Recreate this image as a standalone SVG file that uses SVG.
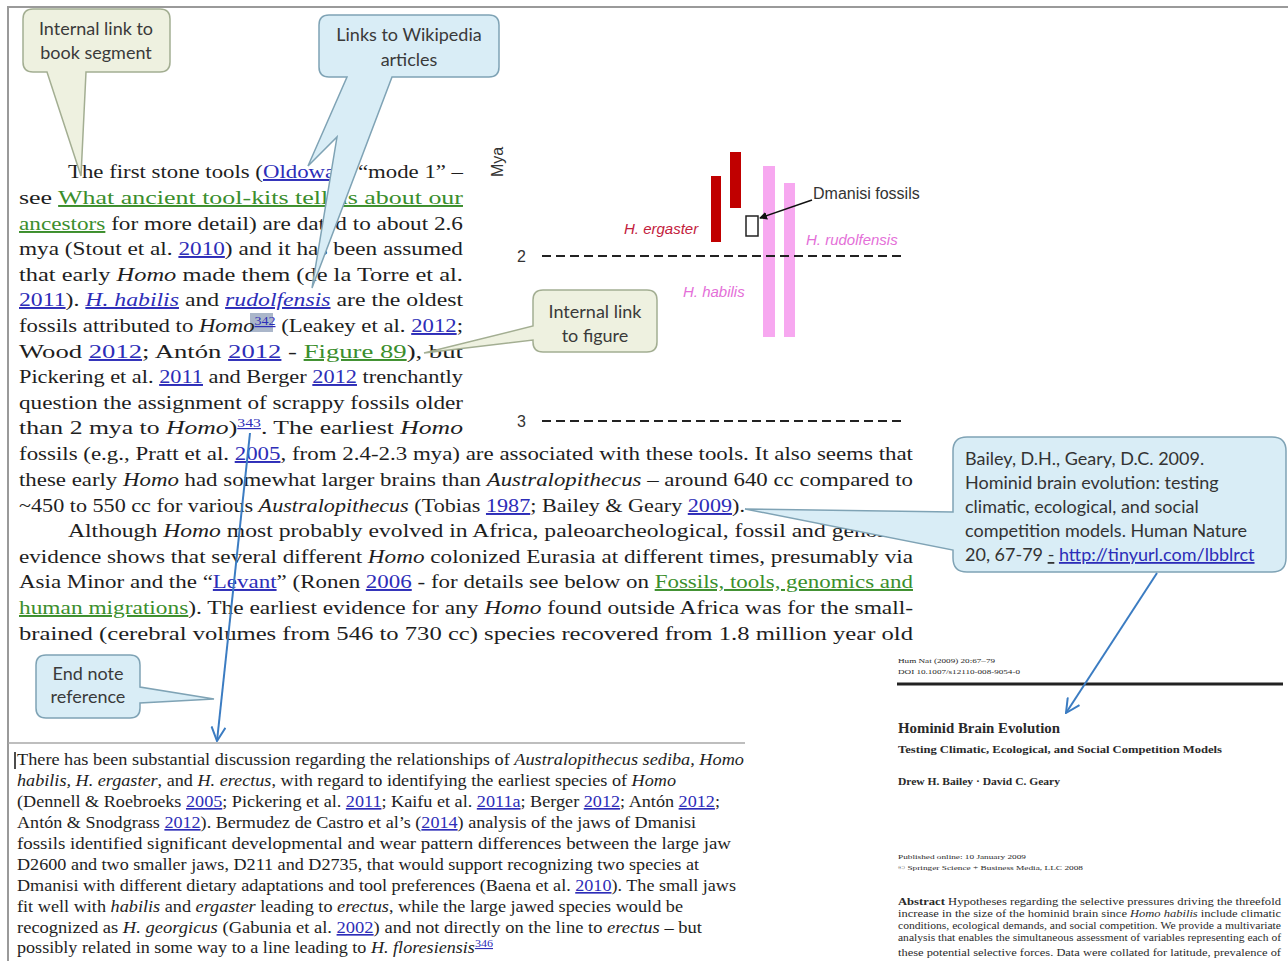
<svg xmlns="http://www.w3.org/2000/svg" width="1288" height="961" viewBox="0 0 1288 961">
  <defs>
    <style>
      .body{font-family:"Liberation Serif","Times New Roman",serif;font-size:19.5px;fill:#1e1e1e}
      .fn{font-family:"Liberation Serif","Times New Roman",serif;font-size:16.5px;fill:#1e1e1e}
      .lk{fill:#2d2db8;text-decoration:underline}
      .gl{fill:#3b8e2c;text-decoration:underline}
      .it{font-style:italic}
      .cg{fill:#eef1e0;stroke:#a3ae92;stroke-width:1.5}
      .cb{fill:#d9edf6;stroke:#7fa3b5;stroke-width:1.5}
      .ct{font-family:Lato,"Liberation Sans",sans-serif;font-size:18px;fill:#3a3a3a;text-anchor:middle}
      .bt{font-family:Lato,"Liberation Sans",sans-serif;font-size:18px;fill:#333}
      .ax{font-family:"Liberation Sans",Arial,sans-serif;font-size:16px;fill:#333}
      .sp{font-family:"Liberation Sans",Arial,sans-serif;font-size:15px;font-style:italic}
      .dash{stroke:#222;stroke-width:2;stroke-dasharray:9 5}
      .pp{font-family:"Liberation Serif","Times New Roman",serif;fill:#2a2a2a}
      .arrow{stroke:#3b7cc2;stroke-width:2;fill:none}
    </style>
    <marker id="vhead" viewBox="0 0 16 16" refX="15" refY="8" markerWidth="16" markerHeight="16" markerUnits="userSpaceOnUse" orient="auto">
      <path d="M1,1 L15,8 L1,15" fill="none" stroke="#3b7cc2" stroke-width="2"/>
    </marker>
    <marker id="dhead" viewBox="0 0 8 8" refX="7" refY="4" markerWidth="8" markerHeight="8" markerUnits="userSpaceOnUse" orient="auto">
      <path d="M0,0 L8,4 L0,8 Z" fill="#111"/>
    </marker>
  </defs>

  <rect width="1288" height="961" fill="#fff"/>
  <!-- page frame -->
  <path d="M8,961 V7 H1288" fill="none" stroke="#9a9a9a" stroke-width="2"/>

  <!-- body text -->
  <g id="body-text">
    <rect x="250" y="313" width="23" height="19" fill="#aab6ca"/>
    <text class="body" x="68" y="178" textLength="395" lengthAdjust="spacingAndGlyphs">The first stone tools (<tspan class="lk">Oldowan</tspan>, “mode 1” –</text>
    <text class="body" x="19" y="204" textLength="444" lengthAdjust="spacingAndGlyphs">see <tspan class="gl">What ancient tool-kits tell us about our</tspan></text>
    <text class="body" x="19" y="230" textLength="444" lengthAdjust="spacingAndGlyphs"><tspan class="gl">ancestors</tspan> for more detail)  are dated to about 2.6</text>
    <text class="body" x="19" y="255" textLength="444" lengthAdjust="spacingAndGlyphs">mya (Stout et al. <tspan class="lk">2010</tspan>) and it has been assumed</text>
    <text class="body" x="19" y="281" textLength="444" lengthAdjust="spacingAndGlyphs">that early <tspan class="it">Homo</tspan> made them (de la Torre et al.</text>
    <text class="body" x="19" y="306" textLength="444" lengthAdjust="spacingAndGlyphs"><tspan class="lk">2011</tspan>). <tspan class="lk it">H. habilis</tspan> and <tspan class="lk it">rudolfensis</tspan> are the oldest</text>
    <text class="body" x="19" y="332" textLength="444" lengthAdjust="spacingAndGlyphs">fossils attributed to <tspan class="it">Homo</tspan><tspan class="lk" font-size="12" dy="-7">342</tspan><tspan dy="7"> (Leakey et al. </tspan><tspan class="lk">2012</tspan>;</text>
    <text class="body" x="19" y="358" textLength="444" lengthAdjust="spacingAndGlyphs">Wood <tspan class="lk">2012</tspan>; Antón <tspan class="lk">2012</tspan> - <tspan class="gl">Figure 89</tspan>), but</text>
    <text class="body" x="19" y="383" textLength="444" lengthAdjust="spacingAndGlyphs">Pickering et al. <tspan class="lk">2011</tspan> and Berger <tspan class="lk">2012</tspan> trenchantly</text>
    <text class="body" x="19" y="409" textLength="444" lengthAdjust="spacingAndGlyphs">question the assignment of scrappy fossils older</text>
    <text class="body" x="19" y="434" textLength="444" lengthAdjust="spacingAndGlyphs">than 2 mya to <tspan class="it">Homo</tspan>)<tspan class="lk" font-size="12" dy="-7">343</tspan><tspan dy="7">. The earliest </tspan><tspan class="it">Homo</tspan></text>
    <text class="body" x="19" y="460" textLength="894" lengthAdjust="spacingAndGlyphs">fossils (e.g., Pratt et al. <tspan class="lk">2005</tspan>, from 2.4-2.3 mya) are associated with these tools. It also seems that</text>
    <text class="body" x="19" y="486" textLength="894" lengthAdjust="spacingAndGlyphs">these early <tspan class="it">Homo</tspan> had somewhat larger brains than <tspan class="it">Australopithecus</tspan> – around 640 cc compared to</text>
    <text class="body" x="19" y="512" textLength="726" lengthAdjust="spacingAndGlyphs">~450 to 550 cc for various <tspan class="it">Australopithecus</tspan> (Tobias <tspan class="lk">1987</tspan>; Bailey &amp; Geary <tspan class="lk">2009</tspan>).</text>
    <text class="body" x="68" y="537" textLength="845" lengthAdjust="spacingAndGlyphs">Although <tspan class="it">Homo</tspan> most probably evolved in Africa, paleoarcheological, fossil and genomic</text>
    <text class="body" x="19" y="563" textLength="894" lengthAdjust="spacingAndGlyphs">evidence shows that several different <tspan class="it">Homo</tspan> colonized Eurasia at different times, presumably via</text>
    <text class="body" x="19" y="588" textLength="894" lengthAdjust="spacingAndGlyphs">Asia Minor and the “<tspan class="lk">Levant</tspan>” (Ronen <tspan class="lk">2006</tspan> - for details see below on <tspan class="gl">Fossils, tools, genomics and</tspan></text>
    <text class="body" x="19" y="614" textLength="894" lengthAdjust="spacingAndGlyphs"><tspan class="gl">human migrations</tspan>). The earliest evidence for any <tspan class="it">Homo</tspan> found outside Africa was for the small-</text>
    <text class="body" x="19" y="640" textLength="894" lengthAdjust="spacingAndGlyphs">brained (cerebral volumes from 546 to 730 cc) species recovered from 1.8 million year old</text>
  </g>

  <!-- end note -->
  <g id="endnote">
    <line x1="8" y1="743" x2="745" y2="743" stroke="#a8a8a8" stroke-width="1.5"/>
    <line x1="15" y1="752" x2="15" y2="769" stroke="#111" stroke-width="1.5"/>
    <text class="fn" x="17" y="765" textLength="727" lengthAdjust="spacingAndGlyphs">There has been substantial discussion regarding the relationships of <tspan class="it">Australopithecus sediba, Homo</tspan></text>
    <text class="fn" x="17" y="786" textLength="659" lengthAdjust="spacingAndGlyphs"><tspan class="it">habilis, H. ergaster</tspan>, and <tspan class="it">H. erectus</tspan>, with regard to identifying the earliest species of <tspan class="it">Homo</tspan></text>
    <text class="fn" x="17" y="807" textLength="703" lengthAdjust="spacingAndGlyphs">(Dennell &amp; Roebroeks <tspan class="lk">2005</tspan>; Pickering et al. <tspan class="lk">2011</tspan>; Kaifu et al. <tspan class="lk">2011a</tspan>; Berger <tspan class="lk">2012</tspan>; Antón <tspan class="lk">2012</tspan>;</text>
    <text class="fn" x="17" y="828" textLength="679" lengthAdjust="spacingAndGlyphs">Antón &amp; Snodgrass <tspan class="lk">2012</tspan>). Bermudez de Castro et al’s (<tspan class="lk">2014</tspan>) analysis of the jaws of Dmanisi</text>
    <text class="fn" x="17" y="849" textLength="714" lengthAdjust="spacingAndGlyphs">fossils identified significant developmental and wear pattern differences between the large jaw</text>
    <text class="fn" x="17" y="870" textLength="682" lengthAdjust="spacingAndGlyphs">D2600 and two smaller jaws, D211 and D2735, that would support recognizing two species at</text>
    <text class="fn" x="17" y="891" textLength="719" lengthAdjust="spacingAndGlyphs">Dmanisi with different dietary adaptations and tool preferences (Baena et al. <tspan class="lk">2010</tspan>). The small jaws</text>
    <text class="fn" x="17" y="912" textLength="666" lengthAdjust="spacingAndGlyphs">fit well with <tspan class="it">habilis</tspan> and <tspan class="it">ergaster</tspan> leading to <tspan class="it">erectus</tspan>, while the large jawed species would be</text>
    <text class="fn" x="17" y="933" textLength="685" lengthAdjust="spacingAndGlyphs">recognized as <tspan class="it">H. georgicus</tspan> (Gabunia et al. <tspan class="lk">2002</tspan>) and not directly on the line to <tspan class="it">erectus</tspan> – but</text>
    <text class="fn" x="17" y="953" textLength="476" lengthAdjust="spacingAndGlyphs">possibly related in some way to a line leading to <tspan class="it">H. floresiensis</tspan><tspan class="lk" font-size="11" dy="-6">346</tspan></text>
  </g>

  <!-- timeline figure -->
  <g id="figure-chart">
    <text class="ax" font-size="15" transform="translate(503,177) rotate(-90)">Mya</text>
    <rect x="711" y="176" width="10" height="66" fill="#c00000"/>
    <rect x="730" y="152" width="11" height="56" fill="#c00000"/>
    <rect x="763" y="166" width="12" height="171" fill="#f7a8f0"/>
    <rect x="784" y="183" width="11" height="154" fill="#f7a8f0"/>
    <rect x="746" y="216" width="12" height="20" fill="#fff" stroke="#222" stroke-width="1.5"/>
    <text class="ax" x="517" y="262">2</text>
    <line class="dash" x1="542" y1="256" x2="903" y2="256"/>
    <text class="ax" x="517" y="427">3</text>
    <line class="dash" x1="542" y1="421" x2="903" y2="421"/>
    <text class="sp" x="624" y="234" fill="#c3203c">H. ergaster</text>
    <text class="sp" x="806" y="245" fill="#e46fd8">H. rudolfensis</text>
    <text class="sp" x="683" y="297" fill="#e46fd8">H. habilis</text>
    <text class="ax" x="813" y="199" font-size="15" fill="#222">Dmanisi fossils</text>
  </g>

  <!-- callouts -->
  <g id="callout-book-segment">
    <path class="cg" d="M33,9 H160 Q170,9 170,19 V62 Q170,72 160,72 H86 L81,176 L47,72 H33 Q23,72 23,62 V19 Q23,9 33,9 Z"/>
    <text class="ct" x="96" y="35">Internal link to</text>
    <text class="ct" x="96" y="59">book segment</text>
  </g>
  <g id="callout-wikipedia">
    <path class="cb" d="M329,15 H489 Q499,15 499,25 V67 Q499,77 489,77 H392 L312,288 L337,137 L308,166 L347,77 H329 Q319,77 319,67 V25 Q319,15 329,15 Z"/>
    <text class="ct" x="409" y="41">Links to Wikipedia</text>
    <text class="ct" x="409" y="66">articles</text>
  </g>
  <g id="callout-figure">
    <path class="cg" d="M543,290 H647 Q657,290 657,300 V342 Q657,352 647,352 H543 Q533,352 533,342 V340 L424,353 L533,326 V300 Q533,290 543,290 Z"/>
    <text class="ct" x="595" y="318">Internal link</text>
    <text class="ct" x="595" y="342">to figure</text>
  </g>
  <g id="callout-endnote">
    <path class="cb" d="M46,655 H130 Q140,655 140,665 V687 L214,699 L140,703 V708 Q140,718 130,718 H46 Q36,718 36,708 V665 Q36,655 46,655 Z"/>
    <text class="ct" x="88" y="680">End note</text>
    <text class="ct" x="88" y="703">reference</text>
  </g>
  <g id="callout-reference">
    <path class="cb" d="M967,437 H1272 Q1286,437 1286,451 V558 Q1286,572 1272,572 H967 Q953,572 953,558 V550 L745,509 L953,512 V451 Q953,437 967,437 Z"/>
    <text class="bt" x="965" y="465">Bailey, D.H., Geary, D.C. 2009.</text>
    <text class="bt" x="965" y="489">Hominid brain evolution: testing</text>
    <text class="bt" x="965" y="513">climatic, ecological, and social</text>
    <text class="bt" x="965" y="537">competition models. Human Nature</text>
    <text class="bt" x="965" y="561">20, 67-79 <tspan text-decoration="underline">-</tspan> <tspan fill="#2d2db8" text-decoration="underline">http://tinyurl.com/lbblrct</tspan></text>
  </g>

  <!-- article first page -->
  <g id="article-page">
    <text class="pp" x="898" y="663" font-size="7" textLength="97" lengthAdjust="spacingAndGlyphs">Hum Nat (2009) 20:67–79</text>
    <text class="pp" x="898" y="674" font-size="7" textLength="122" lengthAdjust="spacingAndGlyphs">DOI 10.1007/s12110-008-9054-0</text>
    <line x1="897" y1="684" x2="1283" y2="684" stroke="#222" stroke-width="3"/>
    <text class="pp" x="898" y="733" font-size="14" font-weight="bold" textLength="162" lengthAdjust="spacingAndGlyphs">Hominid Brain Evolution</text>
    <text class="pp" x="898" y="753" font-size="11" font-weight="bold" textLength="324" lengthAdjust="spacingAndGlyphs">Testing Climatic, Ecological, and Social Competition Models</text>
    <text class="pp" x="898" y="785" font-size="10.5" font-weight="bold" textLength="162" lengthAdjust="spacingAndGlyphs">Drew H. Bailey · David C. Geary</text>
    <text class="pp" x="898" y="859" font-size="7" textLength="128" lengthAdjust="spacingAndGlyphs">Published online: 10 January 2009</text>
    <text class="pp" x="898" y="870" font-size="7" textLength="185" lengthAdjust="spacingAndGlyphs">© Springer Science + Business Media, LLC 2008</text>
    <text class="pp" x="898" y="905" font-size="9.5" textLength="383" lengthAdjust="spacingAndGlyphs"><tspan font-weight="bold">Abstract</tspan> Hypotheses regarding the selective pressures driving the threefold</text>
    <text class="pp" x="898" y="917" font-size="9.5" textLength="383" lengthAdjust="spacingAndGlyphs">increase in the size of the hominid brain since <tspan class="it">Homo habilis</tspan> include climatic</text>
    <text class="pp" x="898" y="929" font-size="9.5" textLength="383" lengthAdjust="spacingAndGlyphs">conditions, ecological demands, and social competition. We provide a multivariate</text>
    <text class="pp" x="898" y="941" font-size="9.5" textLength="383" lengthAdjust="spacingAndGlyphs">analysis that enables the simultaneous assessment of variables representing each of</text>
    <text class="pp" x="898" y="956" font-size="9.5" textLength="383" lengthAdjust="spacingAndGlyphs">these potential selective forces. Data were collated for latitude, prevalence of</text>
  </g>

  <!-- connectors -->
  <g id="connectors">
    <line class="arrow" x1="250" y1="433" x2="217" y2="741" marker-end="url(#vhead)"/>
    <line class="arrow" x1="1157" y1="573" x2="1066" y2="713" marker-end="url(#vhead)"/>
    <line x1="812" y1="200" x2="760" y2="218" stroke="#111" stroke-width="1.5" marker-end="url(#dhead)"/>
  </g>
</svg>
